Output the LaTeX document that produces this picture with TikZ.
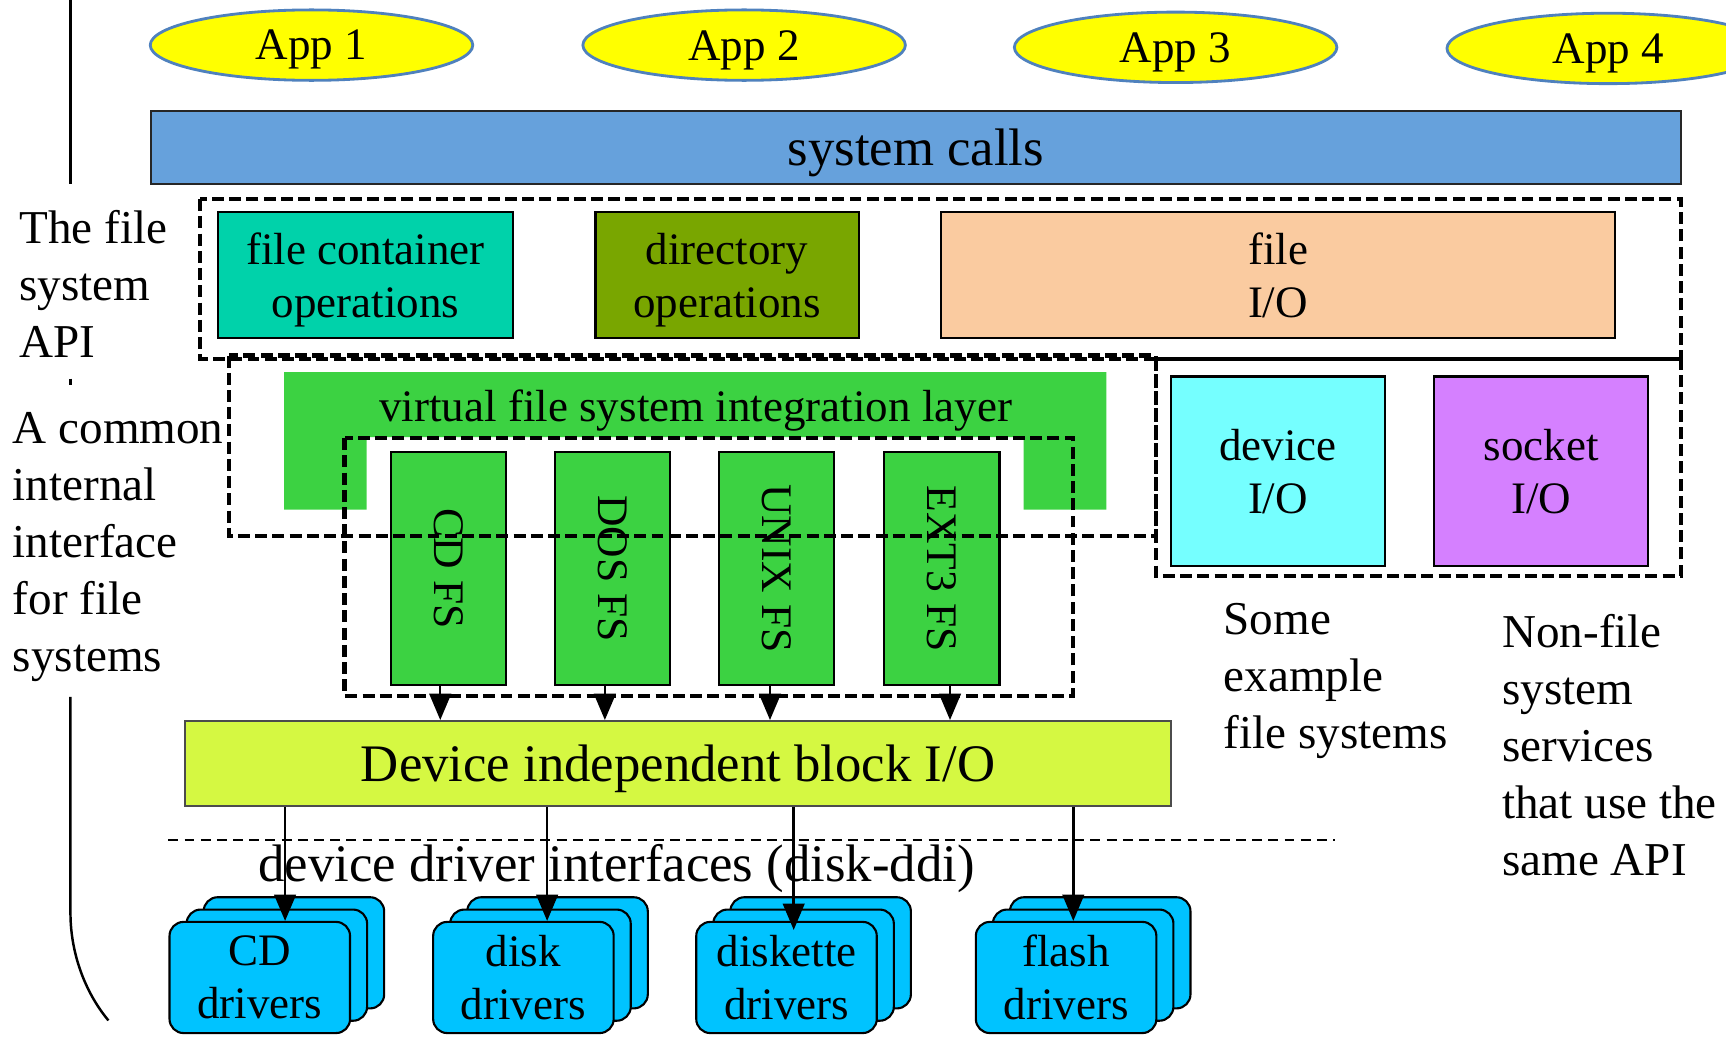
\documentclass[tikz,border=0pt]{standalone}
\usepackage{fontspec}
\setmainfont{Liberation Serif}
\usetikzlibrary{arrows,shapes.geometric}

\definecolor{appyellow}{RGB}{255,255,0}
\definecolor{appedge}{RGB}{79,129,189}
\definecolor{callblue}{RGB}{102,161,220}
\definecolor{contteal}{RGB}{0,210,170}
\definecolor{dirolive}{RGB}{121,166,0}
\definecolor{iopeach}{RGB}{250,203,160}
\definecolor{fsgreen}{RGB}{60,210,66}
\definecolor{devcyan}{RGB}{117,255,255}
\definecolor{sockviolet}{RGB}{213,128,255}
\definecolor{blocklime}{RGB}{213,248,66}
\definecolor{drvblue}{RGB}{0,195,255}

\newcommand{\pxw}{0.011008cm}
\newcommand{\txtbig}{\fontsize{15}{17}\selectfont}
\newcommand{\txtside}{\fontsize{13.4}{16.2}\selectfont}
\newcommand{\txtbox}{\fontsize{12.8}{15.1}\selectfont}
\newcommand{\txtfs}{\fontsize{12.4}{14}\selectfont}

\begin{document}
\begin{tikzpicture}[x=0.011008cm,y=-0.011008cm,>=triangle 45,
	app/.style={ellipse,draw=appedge,line width=0.8pt,fill=appyellow,minimum width=293*\pxw,minimum height=64*\pxw,inner sep=0pt,text depth=0pt,font=\txtbox},
	bar/.style={draw=black!85,line width=0.7pt,inner sep=0pt,text depth=0pt,font=\txtbig},
	opbox/.style={draw,line width=0.6pt,inner sep=0pt,text depth=0pt,align=center,font=\txtbox},
	fsbox/.style={draw,fill=fsgreen,line width=0.6pt,inner sep=0pt,minimum width=105*\pxw,minimum height=211*\pxw},
	fslabel/.style={rotate=-90,inner sep=0pt,font=\txtfs},
	groupbox/.style={draw,line width=1.2pt,dash pattern=on 3.4pt off 1.5pt},
	card/.style={draw,fill=drvblue,rounded corners=4pt,line width=0.6pt,minimum width=164*\pxw,minimum height=101*\pxw,inner sep=0pt,text depth=0pt,align=center,font=\txtbox},
	side/.style={anchor=west,align=left,inner sep=0pt,font=\txtside},
	link/.style={->,line width=0.7pt}]
	\useasboundingbox (0,0) rectangle (1568,942);

	% left bracket
	\draw[line width=0.7pt] (64,0) -- (64,167);
	\draw[line width=0.7pt] (64,344) -- (64,350);
	\draw[line width=0.7pt] (64,633) -- (64,829) .. controls (64,870) and (80,905) .. (98.5,927);
	\node[side] (apitxt) at (17,258) {The file\\system\\API};
	\node[side] (commontxt) at (11,497) {A common\\internal\\interface\\for file\\systems};

	% applications
	\node[app] (app1) at (283,41) {App 1};
	\node[app] (app2) at (676,41) {App 2};
	\node[app] (app3) at (1068,43) {App 3};
	\node[app] (app4) at (1461,44) {App 4};

	\node[bar,fill=callblue,minimum width=1390*\pxw,minimum height=66*\pxw] (syscalls) at (832,134) {system calls};

	% file system API
	\node[opbox,fill=contteal,minimum width=268*\pxw,minimum height=114*\pxw] (contops) at (332,250) {file container\\operations};
	\node[opbox,fill=dirolive,minimum width=239*\pxw,minimum height=114*\pxw] (dirops) at (660.5,250) {directory\\operations};
	\node[opbox,fill=iopeach,minimum width=612*\pxw,minimum height=114*\pxw] (fileio) at (1161,250) {file\\I/O};

	% virtual layer
	\fill[fsgreen] (258,338) -- (1005,338) -- (1005,463) -- (930,463) -- (930,397)
		-- (333,397) -- (333,463) -- (258,463) -- cycle;
	\node[font=\txtbox] (vfs) at (632,373) {virtual file system integration layer};

	\node[fsbox,label={[fslabel]center:CD FS}] (cdfs) at (407.5,516.5) {};
	\node[fsbox,label={[fslabel]center:DOS FS}] (dosfs) at (556.5,516.5) {};
	\node[fsbox,label={[fslabel]center:UNIX FS}] (unixfs) at (705.5,516.5) {};
	\node[fsbox,label={[fslabel]center:EXT3 FS}] (extfs) at (855.5,516.5) {};

	% non-file services
	\node[opbox,fill=devcyan,minimum width=194*\pxw,minimum height=172*\pxw] (devio) at (1161,428) {device\\I/O};
	\node[opbox,fill=sockviolet,minimum width=194*\pxw,minimum height=172*\pxw] (sockio) at (1400,428) {socket\\I/O};

	\draw[groupbox] (182,181) rectangle (1527,326);
	\draw[groupbox] (208,323) rectangle (1050,487);
	\draw[groupbox] (313,398) rectangle (975,632);
	\draw[groupbox] (1050,326) rectangle (1527,523);
	\draw[line width=1.2pt] (1050,326) -- (1527,326);

	\node[side] (sometxt) at (1111,619) {Some\\example\\file systems};
	\node[side] (nonfiletxt) at (1364,677) {Non-file\\system\\services\\that use the\\same API};

	\node[bar,draw=black!70,line width=0.6pt,fill=blocklime,minimum width=896*\pxw,minimum height=77*\pxw] (blockio) at (616,693.5) {Device independent block I/O};

	\draw[link] ([xshift=-0.083cm]cdfs.south) -- ([xshift=-0.083cm]cdfs.south |- blockio.north);
	\draw[link] ([xshift=-0.077cm]dosfs.south) -- ([xshift=-0.077cm]dosfs.south |- blockio.north);
	\draw[link] ([xshift=-0.066cm]unixfs.south) -- ([xshift=-0.066cm]unixfs.south |- blockio.north);
	\draw[link] ([xshift=0.083cm]extfs.south) -- ([xshift=0.083cm]extfs.south |- blockio.north);

	% driver interface
	\draw[line width=0.5pt,dash pattern=on 2.8pt off 1.8pt] (153,763) -- (1213,763);
	\node[font=\txtbig] (ddi) at (560,789) {device driver interfaces (disk-ddi)};

	\node[card] (cdback) at (267,865.6) {};
	\node[card] (cdmid) at (251.5,876.8) {};
	\node[card] (cdfront) at (236,888) {CD\\drivers};
	\node[card] (diskback) at (506.5,865.6) {};
	\node[card] (diskmid) at (491,876.8) {};
	\node[card] (diskfront) at (475.5,888) {disk\\drivers};
	\node[card] (fdback) at (745.5,865.6) {};
	\node[card] (fdmid) at (730,876.8) {};
	\node[card] (fdfront) at (714.5,888) {diskette\\drivers};
	\node[card] (flashback) at (999.5,865.6) {};
	\node[card] (flashmid) at (984,876.8) {};
	\node[card] (flashfront) at (968.5,888) {flash\\drivers};

	\draw[link] ([xshift=0.253cm]cdfront.north |- blockio.south) -- ([xshift=0.253cm]cdfront.north);
	\draw[link] ([xshift=0.237cm]diskfront.north |- blockio.south) -- ([xshift=0.237cm]diskfront.north);
	\draw[link] ([xshift=0.072cm]fdfront.north |- blockio.south) -- ([xshift=0.072cm,yshift=-0.09cm]fdfront.north);
	\draw[link] ([xshift=0.072cm]flashfront.north |- blockio.south) -- ([xshift=0.072cm]flashfront.north);

\end{tikzpicture}
\end{document}
